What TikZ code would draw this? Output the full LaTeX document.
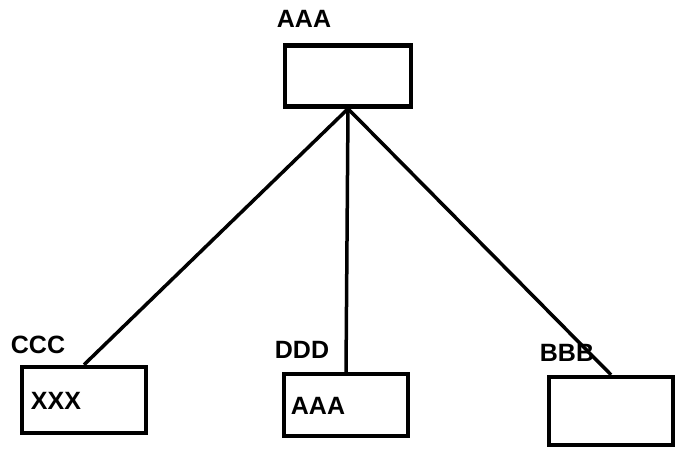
\documentclass[tikz,border=0pt]{standalone}
\usepackage{fontspec}
\setmainfont{Liberation Sans}
\begin{document}
\begin{tikzpicture}[x=1pt,y=-1pt,
  box/.style={draw,line width=4.5pt,minimum width=124pt,minimum height=60pt,inner sep=0pt},
  lbl/.style={font=\fontsize{25}{25}\selectfont\bfseries,inner sep=0pt},
  conn/.style={line width=3.5pt}]
\useasboundingbox (0,0) rectangle (676,451);
\node[box,minimum width=126pt,minimum height=61pt] (top) at (348,76) {};
\node[box,minimum height=66pt] (ccc) at (84,400) {};
\node[box,minimum height=62pt] (ddd) at (346,405) {};
\node[box,minimum height=68pt] (bbb) at (611,411) {};
\node[lbl] (ltop) at (304,19) {AAA};
\node[lbl] (lccc) at (38,345) {CCC};
\node[lbl] (lddd) at (302,350) {DDD};
\node[lbl] (lbbb) at (567,353) {BBB};
\node[lbl] (tccc) at (56,401) {XXX};
\node[lbl] (tddd) at (318,406) {AAA};
\draw[conn] (top.south) -- (ccc.north);
\draw[conn] (top.south) -- (ddd.north);
\draw[conn] (top.south) -- (bbb.north);
\end{tikzpicture}
\end{document}
